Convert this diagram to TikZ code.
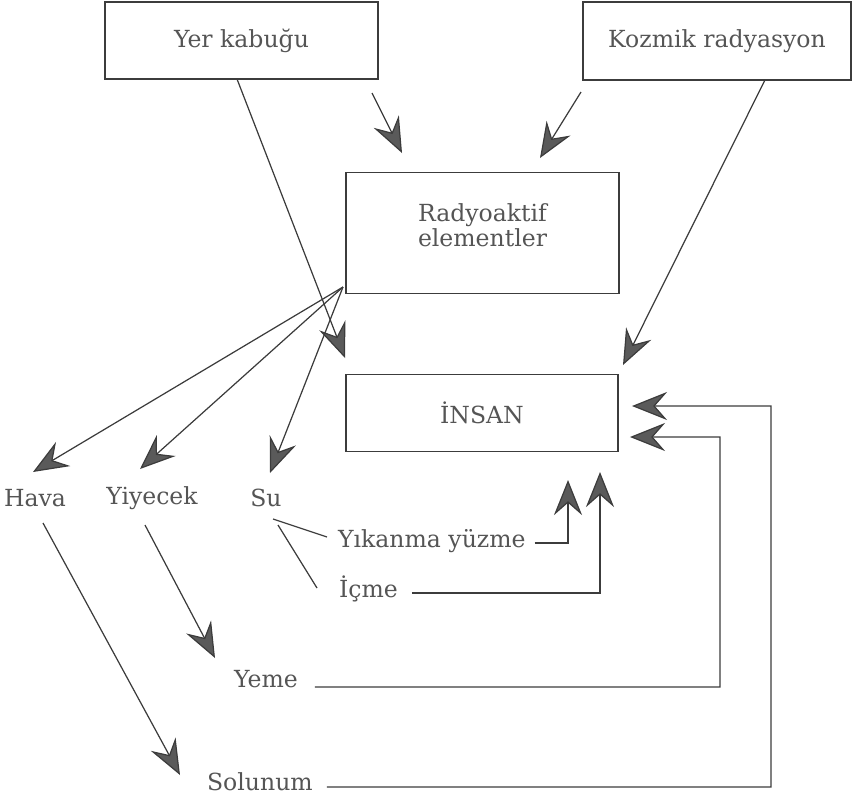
\documentclass[tikz,border=0pt]{standalone}
\usepackage{fontspec}
\setmainfont{DejaVu Serif}
\usetikzlibrary{arrows.meta}
\definecolor{ink}{HTML}{3C3C3C}
\definecolor{tipgray}{HTML}{5A5A5A}
\definecolor{txt}{HTML}{555555}
\tikzset{
  box/.style={draw=ink, line width=0.8pt, outer sep=0pt, inner sep=0pt, align=center, text=txt},
  lbl/.style={text=txt, inner sep=1pt},
  flow/.style={draw=ink, line width=0.7pt, -{Stealth[length=20pt, width=16pt, inset=7pt, fill=tipgray]}},
  tie/.style={draw=ink, line width=0.7pt}
}
\begin{document}
\begin{tikzpicture}[x=0.02cm, y=-0.02cm, font=\fontsize{13.4}{16}\selectfont]
    \useasboundingbox (0,0) rectangle (852,796);
    % boxes
    \node[box, minimum width=5.46cm, minimum height=1.54cm] (yer) at (241.5,40.5) {Yer kabuğu};
    \node[box, minimum width=5.36cm, minimum height=1.56cm] (kozmik) at (717,41) {Kozmik radyasyon};
    \node[box, minimum width=5.46cm, minimum height=2.42cm] (radyo) at (482.5,233) {Radyoaktif\\[-2pt]elementler\\[-7pt]};
    \node[box, minimum width=5.44cm, minimum height=1.54cm] (insan) at (482,413) {İNSAN};
    % labels
    \node[lbl] (hava) at (35,498) {Hava};
    \node[lbl] (yiyecek) at (152,498) {Yiyecek};
    \node[lbl] (su) at (266,498) {Su};
    \node[lbl, anchor=west] (yikanma) at (336,541) {Yıkanma yüzme};
    \node[lbl, anchor=west] (icme) at (337,589) {İçme};
    \node[lbl, anchor=west] (yeme) at (232,679) {Yeme};
    \node[lbl, anchor=west] (solunum) at (205,782) {Solunum};
    % free ends
    \coordinate (fan) at (343,287);
    \coordinate (y1) at (372,93);   \coordinate (y2) at (402,153);
    \coordinate (k1) at (581,92);   \coordinate (k2) at (540,158);
    \coordinate (ty) at (345,358);  \coordinate (tk) at (623,365);
    \coordinate (th) at (33,472);   \coordinate (ti) at (140,469);  \coordinate (ts) at (270,473);
    \coordinate (tw) at (568,480);  \coordinate (tc) at (600,472);
    \draw[flow] ([xshift=-0.09cm]yer.south) -- (ty);
    \draw[flow] (y1) -- (y2);
    \draw[flow] (k1) -- (k2);
    \draw[flow] ([xshift=0.96cm]kozmik.south) -- (tk);
    \draw[flow] (fan) -- (th);
    \draw[flow] (fan) -- (ti);
    \draw[flow] (fan) -- (ts);
    \draw[flow] (43,523) -- (180,775);
    \draw[flow] (145,525) -- (215,658);
    \draw[tie] (273,519) -- (327,537);
    \draw[tie] (278,525) -- (317,588);
    \draw[flow] ([xshift=0.14cm,yshift=-0.04cm]yikanma.east) -| (tw);
    \draw[flow] ([xshift=0.24cm,yshift=-0.08cm]icme.east) -| (tc);
    \draw[flow] ([xshift=0.3cm,yshift=-0.16cm]yeme.east) -- (720,687) -- (720,437) -- ([xshift=0.24cm,yshift=-0.48cm]insan.east);
    \draw[flow] ([xshift=0.24cm,yshift=-0.1cm]solunum.east) -- (771,787) -- (771,406) -- ([xshift=0.28cm,yshift=0.14cm]insan.east);
\end{tikzpicture}
\end{document}
